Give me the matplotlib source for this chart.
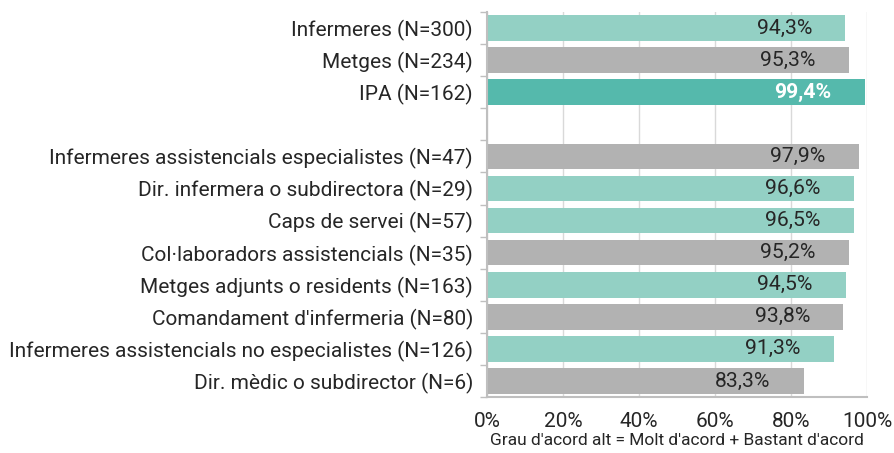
import numpy as np
import matplotlib.pyplot as plt
from matplotlib.ticker import FixedLocator, FuncFormatter

plt.rcParams['font.family'] = ['Roboto', 'DejaVu Sans']

categories = [
    "Infermeres (N=300)",
    "Metges (N=234)",
    "IPA (N=162)",
    "",
    "Infermeres assistencials especialistes (N=47)",
    "Dir. infermera o subdirectora (N=29)",
    "Caps de servei (N=57)",
    "Col·laboradors assistencials (N=35)",
    "Metges adjunts o residents (N=163)",
    "Comandament d'infermeria (N=80)",
    "Infermeres assistencials no especialistes (N=126)",
    "Dir. mèdic o subdirector (N=6)",
]
values = [94.3, 95.3, 99.4, None, 97.9, 96.6, 96.5, 95.2, 94.5, 93.8, 91.3, 83.3]
groups = ["inf", "met", "ipa", None, "met", "inf", "inf", "met", "inf", "met", "inf", "met"]

colors = {"inf": "#93D0C4", "met": "#B2B2B2", "ipa": "#55B9AC"}
text_col = "#262626"

fig = plt.figure(figsize=(8.94, 4.53), dpi=100)
ax = fig.add_axes([487 / 894, 1 - 397 / 453, (867 - 487) / 894, (397 - 12) / 453])

y = np.arange(len(categories))
for yi, v, g in zip(y, values, groups):
    if v is None:
        continue
    ax.barh(yi, v, height=0.8, color=colors[g], zorder=2)
    bold = g == "ipa"
    ax.annotate(f"{v:.1f}%".replace(".", ","), xy=(v, yi), xytext=(-24, 0),
                textcoords="offset points", ha="right", va="center",
                fontsize=15.2, color="white" if bold else text_col,
                fontweight="bold" if bold else "normal", zorder=3)

ax.set_xlim(0, 100)
ax.set_ylim(len(categories) - 0.5, -0.5)
ax.set_yticks(y)
ax.set_yticklabels(categories, fontsize=15, color=text_col)
ax.yaxis.set_minor_locator(FixedLocator(np.arange(-0.5, len(categories), 1)))
ax.tick_params(axis="y", which="major", length=0, pad=10)
ax.tick_params(axis="y", which="minor", length=5, color="#BFBFBF", width=1)

ax.set_xticks(np.arange(0, 101, 20))
ax.xaxis.set_major_formatter(FuncFormatter(lambda v, p: f"{v:.0f}%"))
ax.tick_params(axis="x", length=0, labelsize=15, labelcolor=text_col, pad=11)
ax.grid(axis="x", color="#D9D9D9", linewidth=1, zorder=0)

for s in ["top", "right"]:
    ax.spines[s].set_visible(False)
for s in ["left", "bottom"]:
    ax.spines[s].set_color("#BFBFBF")
    ax.spines[s].set_linewidth(1.5)

ax.set_xlabel("Grau d'acord alt = Molt d'acord + Bastant d'acord", fontsize=12.5,
              color=text_col, labelpad=1.5)

fig.savefig("out.png", dpi=100)
